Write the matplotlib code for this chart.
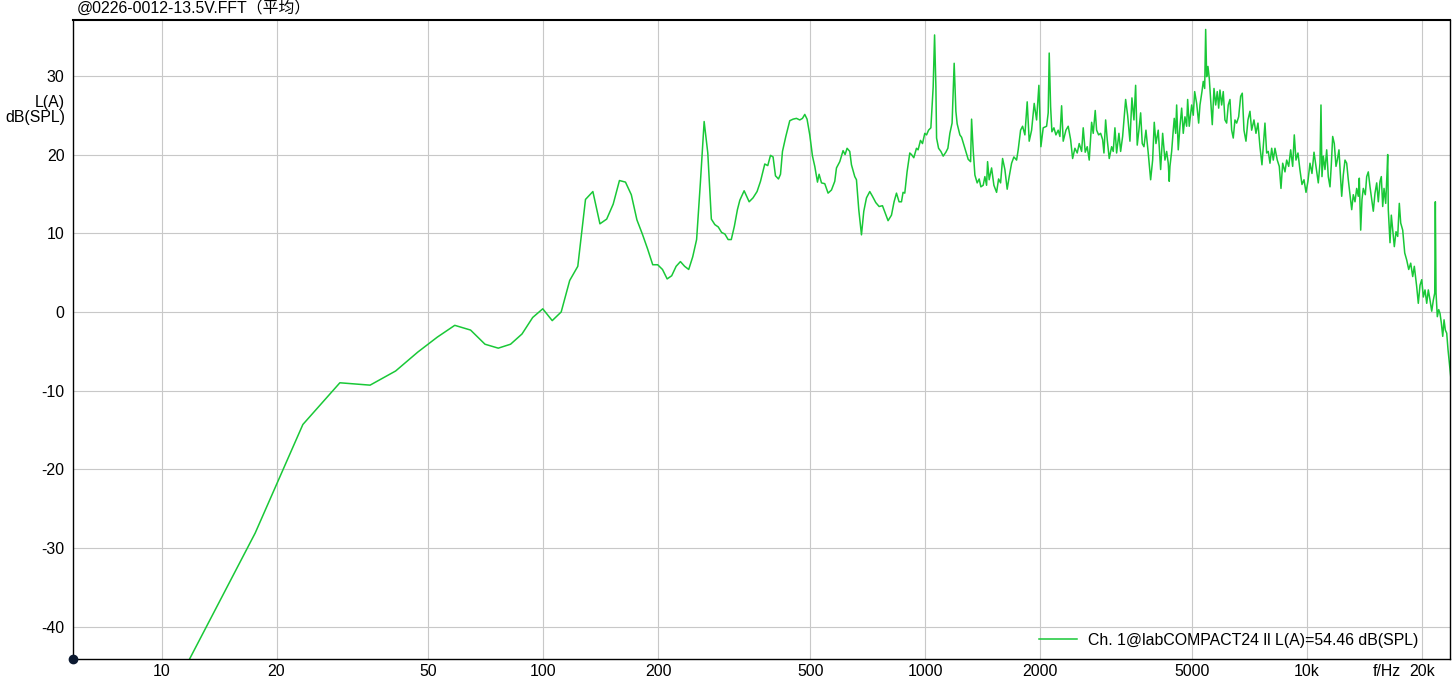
import numpy as np
import matplotlib
matplotlib.use("Agg")
import matplotlib.pyplot as plt
from matplotlib.ticker import FixedLocator, NullLocator

plt.rcParams['font.family'] = ['Liberation Sans', 'Noto Sans CJK SC']
plt.rcParams['font.size'] = 11.4
plt.rcParams['axes.unicode_minus'] = False

# --- chart text / axes ---
title = "@0226-0012-13.5V.FFT（平均）"
legend_label = "Ch. 1@labCOMPACT24 ll L(A)=54.46 dB(SPL)"
y_label = "L(A)\ndB(SPL)"
x_unit = "f/Hz"
x_ticks = [10, 20, 50, 100, 200, 500, 1000, 2000, 5000, 10000, 20000]
x_tick_labels = ["10", "20", "50", "100", "200", "500", "1000", "2000", "5000", "10k", "20k"]
y_ticks = [-40, -30, -20, -10, 0, 10, 20, 30]
x_range = (5.859375, 23700)
y_range = (-44.1, 37.1)

# --- spectrum ---
# low end: single FFT bins (5.86 Hz spacing)
low_hz = [5.86, 11.72, 17.58, 23.44, 29.30, 35.16, 41.02, 46.88, 52.73, 58.59,
          64.45, 70.31, 76.17, 82.03, 87.89, 93.75, 99.61, 105.47, 111.33, 117.19,
          123.05, 128.91, 134.77, 140.63, 146.48, 152.34, 158.20, 164.06, 169.92, 175.78,
          181.64, 187.50, 193.36, 199.22, 205.08, 210.94, 216.80, 222.66, 228.52, 234.38,
          240.23, 246.09, 251.95, 257.81, 263.67, 269.53, 275.39, 281.25, 287.11, 292.97,
          298.83, 304.69, 310.55, 316.41, 322.27]
low_db = [-60.0, -44.5, -28.1, -14.3, -9.0, -9.3, -7.5, -5.1, -3.2, -1.7,
          -2.3, -4.1, -4.6, -4.1, -2.8, -0.7, 0.4, -1.1, 0.0, 4.0,
          5.8, 14.3, 15.3, 11.2, 11.8, 13.7, 16.7, 16.5, 14.9, 11.7,
          9.9, 8.0, 6.0, 6.0, 5.4, 4.2, 4.6, 5.8, 6.4, 5.8,
          5.4, 7.0, 9.2, 16.5, 24.2, 20.2, 11.8, 11.1, 10.8, 10.1,
          9.9, 9.2, 9.2, 10.9, 13.0]

# 330 Hz - 1 kHz
mid_hz = [327, 335.6, 345.9, 354.1, 362.8, 370.4, 380.1, 387.0, 393.4, 399.6,
          405.4, 412.8, 417.9, 422.9, 431.5, 441.9, 450.8, 460.1, 469.4, 477.1,
          483.8, 490.5, 498.6, 506.8, 513.9, 522.3, 527.4, 535.1, 545.8, 556.8,
          568.3, 579.7, 585.7, 597.5, 609.5, 616.9, 624.4, 634.6, 641.1, 654.0,
          660.7, 670.0, 681.0, 690.6, 701.9, 716.0, 727.7, 742.4, 757.5, 773.0,
          785.2, 799.5, 816.1, 829.0, 841.1, 854.4, 866.8, 875.2, 884.3, 896.6,
          911.4, 920.8, 933.7, 948.9, 958.2, 972.2, 984.0, 997.7]
mid_db = [14.2, 15.4, 14.0, 14.5, 15.3, 16.6, 18.8, 18.6, 19.9, 19.7,
          17.3, 16.9, 17.5, 20.4, 22.3, 24.3, 24.5, 24.6, 24.4, 24.6,
          25.1, 24.5, 22.5, 19.8, 18.5, 16.5, 17.5, 16.4, 16.3, 15.1,
          15.5, 16.6, 18.3, 19.1, 20.5, 20.0, 20.8, 20.4, 18.7, 17.2,
          16.8, 13.0, 9.8, 12.8, 14.5, 15.3, 14.7, 13.9, 13.4, 13.5,
          12.6, 11.6, 12.3, 14.0, 15.1, 14.0, 14.0, 15.2, 15.1, 17.8,
          20.2, 20.0, 19.6, 20.8, 20.6, 21.8, 21.4, 22.7]

# 1 - 2 kHz
band1_hz = [1008.5, 1020.6, 1035, 1049.5, 1058.4, 1066.8, 1071.2, 1084.2, 1099.4, 1114.8,
            1133.1, 1146.8, 1160.7, 1176.3, 1191.2, 1203.5, 1212.9, 1232.9, 1245.6, 1270.6,
            1296.2, 1315.1, 1323.1, 1335.9, 1349.7, 1368.5, 1385.2, 1399.4, 1419, 1433.6,
            1448.3, 1457.1, 1471.3, 1492.7, 1513.7, 1538.4, 1557.1, 1576, 1595.1, 1617.4,
            1640, 1660, 1684.2, 1707.8, 1735.7, 1752.5, 1778.1, 1799.7, 1824.9, 1850.4,
            1872.9, 1900.2, 1930.3, 1958.3, 1985.6]
band1_db = [22.5, 23.1, 23.4, 28.6, 35.2, 28.6, 22.1, 20.8, 20.4, 19.8,
            20.3, 20.8, 22.7, 24.0, 31.6, 25.5, 23.9, 22.5, 22.2, 20.8,
            19.4, 19.1, 24.5, 20.6, 17.4, 16.4, 16.9, 15.9, 16.1, 17.2,
            16.1, 19.1, 16.8, 18.3, 16.1, 15.2, 16.9, 16.4, 19.5, 18.1,
            15.6, 17.2, 18.9, 19.7, 19.3, 20.6, 23.1, 23.6, 22.5, 26.7,
            21.7, 23.1, 26.5, 24.4, 28.8]

# 2 - 5 kHz
band2_hz = [2009.8, 2038, 2080.1, 2100.3, 2113.1, 2130.9, 2147.7, 2174, 2200.3, 2230.9,
            2254, 2277.2, 2299.3, 2337.2, 2369.6, 2404.3, 2433.5, 2467.5, 2502, 2532.4,
            2569.3, 2594.2, 2625.8, 2657.5, 2689.9, 2729.1, 2755.6, 2789.1, 2812.6, 2846.9,
            2881.4, 2916.4, 2939.6, 2969.7, 2998.4, 3034.9, 3079.1, 3109, 3141, 3173.3,
            3217.5, 3250.8, 3290.3, 3316.5, 3350.5, 3391, 3438.5, 3480.1, 3522.7, 3558.8,
            3593.2, 3630, 3667.8, 3703.5, 3741.9, 3787.2, 3839.8, 3895.9, 3943.2, 3981.6,
            4022.8, 4078.6, 4138.2, 4188.5, 4247, 4290.7, 4332.4, 4358.6, 4377, 4422.3,
            4465.2, 4492.3, 4530.4, 4557.6, 4601.8, 4649.4, 4697.3, 4742.9, 4791.7, 4841,
            4870.2, 4917.7, 4989.5]
band2_db = [21.0, 23.4, 23.6, 25.3, 32.9, 26.1, 22.9, 23.4, 22.5, 23.1,
            22.3, 26.2, 21.7, 23.1, 23.6, 21.9, 19.5, 20.8, 20.2, 21.4,
            20.4, 23.4, 20.3, 21.0, 19.3, 24.1, 22.7, 25.6, 23.1, 22.5,
            22.7, 21.9, 20.2, 24.4, 21.9, 19.5, 21.0, 20.4, 23.4, 20.2,
            22.7, 20.4, 22.3, 24.4, 27.0, 25.0, 21.7, 27.2, 24.4, 28.8,
            21.2, 23.1, 25.3, 21.4, 21.0, 23.1, 20.2, 16.8, 19.3, 24.1,
            21.4, 23.1, 18.1, 22.7, 19.3, 20.4, 18.9, 16.6, 18.5, 20.4,
            23.1, 24.6, 22.7, 26.3, 20.6, 23.6, 25.9, 22.7, 24.8, 23.6,
            27.0, 23.6, 26.3]

# 5 - 10 kHz
band3_hz = [5037.9, 5080.8, 5142.1, 5204.8, 5245.7, 5309.2, 5351.1, 5396.8, 5429.3, 5461.8,
            5504.8, 5548.4, 5595.4, 5650, 5708.5, 5767, 5822.7, 5872.3, 5918, 5979,
            6037, 6099, 6161.8, 6221.6, 6286, 6350.7, 6412.3, 6478.3, 6545, 6624.8,
            6705, 6770.5, 6840.6, 6923.4, 7006.8, 7092, 7165, 7265.8, 7353.7, 7442.3,
            7533, 7624.2, 7684.4, 7763.5, 7843.4, 7919.4, 8002, 8084.4, 8162.8, 8246.9,
            8362.1, 8463.7, 8551, 8639.4, 8760.1, 8850.2, 8958.2, 9065.9, 9176, 9265.4,
            9361.1, 9474, 9590, 9706, 9825, 9944]
band3_db = [25.0, 28.0, 26.5, 24.0, 26.3, 28.0, 29.3, 28.4, 35.9, 29.9,
            31.2, 29.7, 27.0, 23.8, 28.4, 26.3, 28.0, 25.9, 28.2, 26.3,
            28.0, 24.4, 24.0, 26.3, 27.0, 23.1, 22.1, 24.4, 24.0, 24.8,
            27.4, 27.8, 23.1, 21.7, 24.4, 25.5, 23.1, 24.4, 22.7, 24.0,
            21.0, 18.7, 21.0, 24.0, 20.2, 20.4, 18.9, 20.8, 19.3, 20.8,
            19.3, 18.5, 15.7, 18.9, 17.8, 19.3, 18.5, 20.6, 18.5, 22.5,
            19.3, 20.2, 18.0, 16.2, 16.8, 15.2]

# 10 - 24 kHz
band4_hz = [10060, 10186, 10309, 10436, 10562, 10709, 10819, 10884, 10950, 11037,
            11150, 11265, 11374, 11492, 11583, 11680, 11794, 11916, 12009, 12132,
            12229, 12333, 12452, 12581, 12710, 12833, 12966, 13100, 13227, 13363,
            13500, 13631, 13714, 13830, 13939, 14049, 14220, 14339, 14479, 14629,
            14780, 14923, 15077, 15232, 15380, 15538, 15661, 15793, 15919, 16082,
            16208, 16276, 16335, 16505, 16635, 16776, 16939, 17114, 17289, 17457,
            17605, 17818, 18036, 18253, 18476, 18699, 18926, 19111, 19388, 19576,
            19780, 19984, 20178, 20385, 20595, 20795, 21010, 21226, 21432, 21615,
            21693, 21785, 21955, 22142, 22317, 22493, 22683, 22864, 23042, 23236,
            23419, 23606, 23805]
band4_db = [16.6, 18.9, 17.6, 20.3, 18.5, 16.4, 18.9, 26.3, 17.2, 19.8,
            18.1, 20.6, 17.2, 15.9, 18.7, 22.3, 21.4, 18.5, 19.3, 20.6,
            17.6, 14.7, 17.4, 19.3, 18.9, 16.8, 14.9, 13.0, 14.9, 14.0,
            15.7, 14.7, 17.0, 10.4, 14.3, 15.7, 14.9, 17.2, 17.8, 15.9,
            14.3, 12.8, 15.1, 16.4, 14.0, 16.6, 17.2, 13.4, 15.7, 13.8,
            17.6, 20.0, 13.0, 8.8, 12.3, 10.4, 8.3, 10.2, 9.6, 13.8,
            11.3, 10.4, 7.5, 6.6, 5.4, 6.2, 4.5, 5.8, 3.2, 1.1,
            3.4, 4.1, 1.9, 2.8, 1.1, 2.8, 1.5, 0.1, 1.5, 2.4,
            14.0, 2.4, -0.6, 0.3, -0.2, -1.4, -3.1, -1.0, -2.3, -2.7,
            -4.8, -6.5, -8.2]

freq = np.concatenate([low_hz, mid_hz, band1_hz, band2_hz, band3_hz, band4_hz])
level = np.concatenate([low_db, mid_db, band1_db, band2_db, band3_db, band4_db])

W, H = 1452, 692
fig = plt.figure(figsize=(W / 100, H / 100), dpi=100)
ax = fig.add_axes([73 / W, 33 / H, 1377 / W, 639 / H])

line, = ax.plot(freq, level, color='#19c837', linewidth=1.1, label=legend_label)

ax.set_xscale('log')
ax.set_xlim(*x_range)
ax.set_ylim(*y_range)
ax.xaxis.set_major_locator(FixedLocator(x_ticks))
ax.xaxis.set_minor_locator(NullLocator())
ax.set_xticklabels(x_tick_labels)
ax.set_yticks(y_ticks)
ax.tick_params(axis='both', length=0, labelsize=11.4)
ax.tick_params(axis='x', pad=3.5)
ax.tick_params(axis='y', pad=6)
ax.grid(True, which='major', color='#c8c8c8', linewidth=0.8)
ax.set_axisbelow(True)
for s in ax.spines.values():
    s.set_color('black')
    s.set_linewidth(1.0)
ax.spines['top'].set_linewidth(1.5)

# origin dot
ax.plot([0], [0], 'o', transform=ax.transAxes, clip_on=False, ms=6,
        color='#0b1930', zorder=6)

ax.legend(loc='center right', bbox_to_anchor=(0.9768, 0.0297), frameon=False,
          borderpad=0, borderaxespad=0, handlelength=2.45, handletextpad=0.65,
          fontsize=11.4)

fig.text(77 / W, 1 - 8 / H, title, ha='left', va='center', fontsize=11.4)
fig.text(65 / W, 1 - 110 / H, y_label, ha='right', va='center',
         multialignment='right', linespacing=1.0, fontsize=11.4)
fig.text(1373 / W, 1 - 672 / H, x_unit, ha='left', va='center', fontsize=11.4)

fig.savefig('out.png', dpi=100)
